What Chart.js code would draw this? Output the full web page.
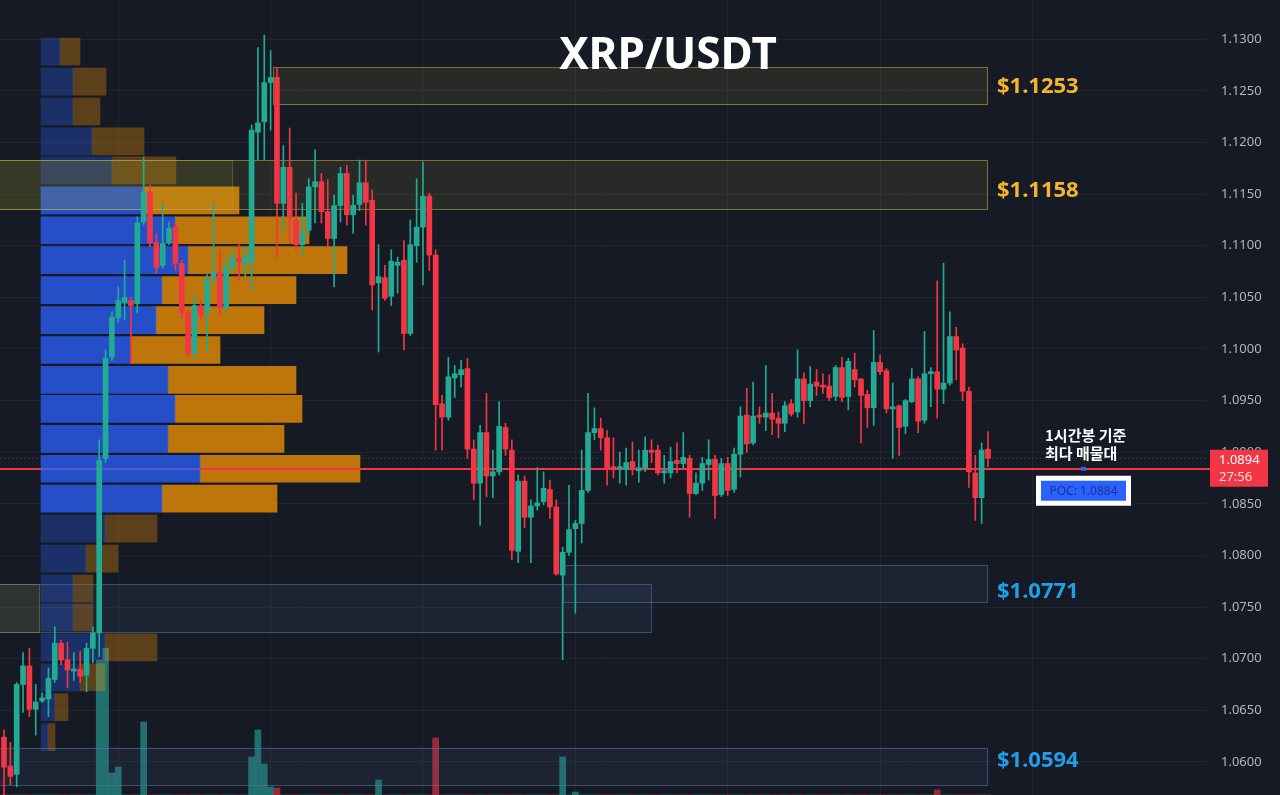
<!DOCTYPE html>
<html>
<head>
<meta charset="utf-8">
<title>XRP/USDT</title>
<script src="https://cdn.jsdelivr.net/npm/chart.js@4.4.1/dist/chart.umd.min.js"></script>
<style>
  html, body { margin: 0; padding: 0; background: #161a25; }
  #wrap { position: relative; width: 1280px; height: 795px; }
</style>
</head>
<body>
<div id="wrap"><canvas id="xrpChart"></canvas></div>
<script>
// 1h candles
const opens = [
  1.0624, 1.0596, 1.0588, 1.0675, 1.0693, 1.0651, 1.0659, 1.0661, 1.0680, 1.0715,
  1.0699, 1.0688, 1.0690, 1.0684, 1.0710, 1.0725, 1.0894, 1.0992, 1.1030, 1.1045,
  1.1047, 1.1044, 1.1123, 1.1152, 1.1103, 1.1081, 1.1103, 1.1118, 1.1083, 1.1035,
  1.0996, 1.1042, 1.1035, 1.1069, 1.1074, 1.1040, 1.1079, 1.1088, 1.1083, 1.1084,
  1.1210, 1.1220, 1.1258, 1.1263, 1.1141, 1.1176, 1.1125, 1.1101, 1.1115, 1.1157,
  1.1162, 1.1133, 1.1107, 1.1139, 1.1170, 1.1130, 1.1140, 1.1161, 1.1144, 1.1064,
  1.1069, 1.1051, 1.1081, 1.1086, 1.1015, 1.1100, 1.1118, 1.1148, 1.1091, 1.0947,
  1.0934, 1.0972, 1.0975, 1.0981, 1.0903, 1.0870, 1.0919, 1.0877, 1.0881, 1.0924,
  1.0902, 1.0804, 1.0872, 1.0837, 1.0848, 1.0852, 1.0864, 1.0847, 1.0781, 1.0803,
  1.0826, 1.0831, 1.0863, 1.0919, 1.0923, 1.0914, 1.0886, 1.0884, 1.0883, 1.0891,
  1.0882, 1.0885, 1.0902, 1.0902, 1.0880, 1.0880, 1.0892, 1.0889, 1.0894, 1.0860,
  1.0870, 1.0888, 1.0893, 1.0859, 1.0889, 1.0864, 1.0898, 1.0936, 1.0909, 1.0936,
  1.0934, 1.0938, 1.0933, 1.0928, 1.0947, 1.0939, 1.0971, 1.0950, 1.0968, 1.0965,
  1.0964, 1.0954, 1.0982, 1.0954, 1.0980, 1.0971, 1.0956, 1.0943, 1.0987, 1.0979,
  1.0942, 1.0945, 1.0925, 1.0949, 1.0971, 1.0931, 1.0976, 1.0978, 1.0961, 1.0967,
  1.1012, 1.1001, 1.0959, 1.0880, 1.0856, 1.0903
];
const highs = [
  1.0631, 1.0619, 1.0677, 1.0706, 1.0710, 1.0675, 1.0667, 1.0691, 1.0731, 1.0718,
  1.0716, 1.0706, 1.0707, 1.0715, 1.0731, 1.0912, 1.0999, 1.1036, 1.1060, 1.1086,
  1.1050, 1.1128, 1.1186, 1.1159, 1.1112, 1.1141, 1.1123, 1.1122, 1.1086, 1.1038,
  1.1052, 1.1047, 1.1072, 1.1141, 1.1096, 1.1089, 1.1096, 1.1101, 1.1099, 1.1217,
  1.1292, 1.1304, 1.1289, 1.1272, 1.1197, 1.1214, 1.1151, 1.1141, 1.1165, 1.1193,
  1.1170, 1.1164, 1.1149, 1.1176, 1.1178, 1.1149, 1.1183, 1.1183, 1.1154, 1.1101,
  1.1081, 1.1096, 1.1089, 1.1105, 1.1125, 1.1165, 1.1181, 1.1151, 1.1096, 1.0955,
  1.0992, 1.0984, 1.0989, 1.0991, 1.0912, 1.0926, 1.0957, 1.0902, 1.0949, 1.0928,
  1.0912, 1.0878, 1.0877, 1.0854, 1.0885, 1.0881, 1.0873, 1.0854, 1.0808, 1.0868,
  1.0834, 1.0902, 1.0957, 1.0943, 1.0933, 1.0921, 1.0914, 1.0900, 1.0904, 1.0910,
  1.0902, 1.0915, 1.0912, 1.0907, 1.0897, 1.0905, 1.0909, 1.0919, 1.0897, 1.0880,
  1.0895, 1.0912, 1.0897, 1.0894, 1.0895, 1.0904, 1.0944, 1.0962, 1.0968, 1.0944,
  1.0984, 1.0957, 1.0939, 1.0949, 1.0951, 1.0999, 1.0977, 1.0983, 1.0980, 1.0976,
  1.0975, 1.0984, 1.0992, 1.0991, 1.0996, 1.0971, 1.0960, 1.1018, 1.0994, 1.0981,
  1.0967, 1.0946, 1.0951, 1.0981, 1.0973, 1.1017, 1.0982, 1.1066, 1.1083, 1.1036,
  1.1021, 1.1005, 1.0963, 1.0897, 1.0909, 1.0920
];
const lows = [
  1.0565, 1.0578, 1.0576, 1.0648, 1.0644, 1.0626, 1.0658, 1.0644, 1.0677, 1.0694,
  1.0672, 1.0679, 1.0677, 1.0668, 1.0696, 1.0702, 1.0890, 1.0989, 1.1025, 1.1028,
  1.0986, 1.1035, 1.1120, 1.1099, 1.1073, 1.1078, 1.1101, 1.1076, 1.1030, 1.0992,
  1.0991, 1.1028, 1.0997, 1.1062, 1.1033, 1.1036, 1.1076, 1.1067, 1.1070, 1.1057,
  1.1183, 1.1183, 1.1212, 1.1089, 1.1115, 1.1102, 1.1096, 1.1091, 1.1110, 1.1122,
  1.1122, 1.1099, 1.1060, 1.1123, 1.1120, 1.1112, 1.1134, 1.1120, 1.1038, 1.0997,
  1.1047, 1.1042, 1.1054, 1.0999, 1.1013, 1.1084, 1.1062, 1.1076, 1.0902, 1.0902,
  1.0931, 1.0953, 1.0963, 1.0894, 1.0854, 1.0829, 1.0857, 1.0856, 1.0878, 1.0897,
  1.0796, 1.0793, 1.0827, 1.0793, 1.0844, 1.0849, 1.0836, 1.0781, 1.0699, 1.0800,
  1.0744, 1.0812, 1.0861, 1.0912, 1.0902, 1.0868, 1.0875, 1.0870, 1.0868, 1.0878,
  1.0871, 1.0881, 1.0890, 1.0878, 1.0870, 1.0875, 1.0880, 1.0885, 1.0837, 1.0859,
  1.0863, 1.0873, 1.0836, 1.0857, 1.0858, 1.0861, 1.0876, 1.0900, 1.0907, 1.0928,
  1.0921, 1.0917, 1.0914, 1.0920, 1.0935, 1.0934, 1.0928, 1.0944, 1.0955, 1.0957,
  1.0950, 1.0950, 1.0949, 1.0941, 1.0963, 1.0909, 1.0924, 1.0926, 1.0975, 1.0938,
  1.0894, 1.0897, 1.0918, 1.0948, 1.0919, 1.0928, 1.0944, 1.0933, 1.0947, 1.0965,
  1.0970, 1.0950, 1.0866, 1.0834, 1.0831, 1.0886
];
const closes = [
  1.0595, 1.0586, 1.0675, 1.0693, 1.0651, 1.0658, 1.0662, 1.0681, 1.0715, 1.0699,
  1.0689, 1.0690, 1.0683, 1.0710, 1.0725, 1.0892, 1.0991, 1.1031, 1.1047, 1.1050,
  1.1042, 1.1122, 1.1152, 1.1103, 1.1079, 1.1102, 1.1117, 1.1083, 1.1035, 1.0996,
  1.1042, 1.1033, 1.1067, 1.1074, 1.1040, 1.1079, 1.1088, 1.1084, 1.1089, 1.1212,
  1.1219, 1.1258, 1.1263, 1.1141, 1.1176, 1.1127, 1.1101, 1.1113, 1.1157, 1.1162,
  1.1133, 1.1107, 1.1139, 1.1170, 1.1130, 1.1139, 1.1161, 1.1142, 1.1062, 1.1070,
  1.1049, 1.1085, 1.1084, 1.1015, 1.1101, 1.1118, 1.1148, 1.1091, 1.0946, 1.0934,
  1.0973, 1.0976, 1.0980, 1.0903, 1.0870, 1.0919, 1.0877, 1.0881, 1.0925, 1.0903,
  1.0805, 1.0872, 1.0837, 1.0848, 1.0851, 1.0865, 1.0847, 1.0782, 1.0803, 1.0825,
  1.0831, 1.0863, 1.0919, 1.0923, 1.0914, 1.0885, 1.0883, 1.0886, 1.0890, 1.0883,
  1.0885, 1.0902, 1.0900, 1.0880, 1.0882, 1.0891, 1.0889, 1.0895, 1.0860, 1.0870,
  1.0889, 1.0893, 1.0858, 1.0889, 1.0863, 1.0898, 1.0935, 1.0908, 1.0935, 1.0934,
  1.0938, 1.0932, 1.0928, 1.0945, 1.0937, 1.0971, 1.0950, 1.0966, 1.0964, 1.0963,
  1.0953, 1.0982, 1.0953, 1.0988, 1.0970, 1.0955, 1.0943, 1.0987, 1.0978, 1.0942,
  1.0944, 1.0924, 1.0950, 1.0971, 1.0930, 1.0976, 1.0978, 1.0961, 1.0967, 1.1012,
  1.0999, 1.0959, 1.0881, 1.0856, 1.0902, 1.0894
];
// only the tallest volume bars reach into the picture
const volumes = [
  0, 0, 0, 0, 0, 0, 0, 0, 0, 0, 0, 0, 0, 0, 0, 135, 147, 22, 28, 0,
  0, 0, 73, 0, 0, 0, 0, 0, 0, 0, 0, 0, 0, 0, 0, 0, 0, 0, 0, 38,
  65, 31, 8, 7, 0, 0, 0, 0, 0, 0, 0, 0, 0, 0, 0, 0, 0, 0, 0, 15,
  0, 0, 0, 0, 0, 0, 0, 0, 57, 0, 0, 0, 0, 0, 0, 0, 0, 0, 0, 0,
  0, 0, 0, 0, 0, 0, 0, 0, 38, 0, 3, 0, 0, 0, 0, 0, 0, 0, 0, 0,
  0, 0, 0, 0, 0, 0, 0, 0, 0, 0, 0, 0, 0, 0, 0, 0, 0, 0, 0, 0,
  0, 0, 0, 0, 0, 0, 0, 0, 0, 0, 0, 0, 0, 0, 0, 0, 0, 0, 0, 0,
  0, 0, 0, 0, 0, 0, 0, 5, 0, 0, 0, 0, 0, 0, 0, 0
];

const priceTicks = [1.0600, 1.0650, 1.0700, 1.0750, 1.0800, 1.0850, 1.0900, 1.0950,
                    1.1000, 1.1050, 1.1100, 1.1150, 1.1200, 1.1250, 1.1300];
const gridCandles = [18, 42, 66, 90, 114, 138, 162];

// volume profile rows (buy = blue, sell = orange)
const profileLevels = [1.1288, 1.1259, 1.1230, 1.1201, 1.1173, 1.1144, 1.1115, 1.1086,
                       1.1057, 1.1028, 1.0999, 1.0970, 1.0942, 1.0913, 1.0884, 1.0855,
                       1.0826, 1.0797, 1.0768, 1.0740, 1.0711, 1.0682, 1.0653, 1.0624];
const profileBuy = [19, 32, 32, 51, 71, 102, 134, 147, 121, 115, 90, 127,
                    134, 127, 159, 121, 64, 45, 32, 32, 64, 39, 14, 7];
const profileSell = [20, 33, 27, 52, 64, 96, 134, 159, 134, 108, 89, 128,
                     127, 116, 160, 115, 52, 32, 20, 20, 52, 25, 13, 7];
const valueAreaHigh = 1.1144;
const valueAreaLow = 1.0855;

// support / resistance boxes
const zoneTops =    [1.1273, 1.1183, 1.1183, 1.0791, 1.0772, 1.0772, 1.0614];
const zoneBottoms = [1.1236, 1.1135, 1.1135, 1.0754, 1.0725, 1.0725, 1.0577];
const zoneStarts =  [42.4, -2, -2, 88, -2, -2, -2];
const zoneEnds =    [155, 155, 36, 155, 102, 5.7, 155];
const zoneKinds =   ['gold', 'gold', 'gold', 'blue', 'blue', 'gold', 'blue'];
const zoneLabels =  ['$1.1253', '$1.1158', '', '$1.0771', '', '', '$1.0594'];

const titleText = 'XRP/USDT';
const pocPrice = 1.0884;
const lastPrice = 1.0894;
const countdown = '27:56';
const noteLines = ['1시간봉 기준', '최다 매물대'];

const UP = '#22ab94';
const DOWN = '#f23645';
// small vertical nudges for the box labels (px)
const labelNudge = [1, 6, 0, 8, 0, 0, -6];

const idx = opens.map((_, i) => i);
const upFlags = closes.map((c, i) => c >= opens[i]);
const candleColors = upFlags.map(u => (u ? UP : DOWN));
const volumeColors = upFlags.map(u => (u ? 'rgba(38,166,154,0.62)' : 'rgba(242,54,69,0.6)'));
const inValueArea = profileLevels.map(p => p <= valueAreaHigh + 1e-9 && p >= valueAreaLow - 1e-9);
const buyColors = inValueArea.map(v => (v ? 'rgba(41,98,255,0.75)' : 'rgba(41,98,255,0.3)'));
const sellColors = inValueArea.map(v => (v ? 'rgba(255,152,0,0.72)' : 'rgba(255,152,0,0.3)'));

function drawZones(chart) {
  const { ctx, chartArea: a, scales: { x, y } } = chart;
  ctx.save();
  ctx.beginPath();
  ctx.rect(a.left, a.top, a.width, a.height);
  ctx.clip();
  zoneTops.forEach((top, k) => {
    const x0 = Math.max(a.left - 2, x.getPixelForValue(zoneStarts[k]));
    const x1 = x.getPixelForValue(zoneEnds[k]);
    const y0 = y.getPixelForValue(top);
    const y1 = y.getPixelForValue(zoneBottoms[k]);
    const gold = zoneKinds[k] === 'gold';
    const faint = !zoneLabels[k] && gold;
    ctx.fillStyle = gold ? 'rgba(200,185,50,0.10)' : 'rgba(70,100,150,0.13)';
    ctx.fillRect(x0, y0, x1 - x0, y1 - y0);
    ctx.strokeStyle = gold ? (faint ? 'rgba(200,175,60,0.3)' : 'rgba(200,175,60,0.55)') : 'rgba(100,125,165,0.5)';
    ctx.lineWidth = 1;
    ctx.strokeRect(Math.round(x0) + 0.5, Math.round(y0) + 0.5, Math.round(x1 - x0) - 1, Math.round(y1 - y0) - 1);
  });
  ctx.restore();
}

function drawPriceLines(chart) {
  const { ctx, chartArea: a, scales: { y } } = chart;
  const lp = Math.round(y.getPixelForValue(lastPrice)) + 0.5;
  ctx.save();
  ctx.strokeStyle = 'rgba(150,155,170,0.35)';
  ctx.setLineDash([1, 3]);
  ctx.lineWidth = 1;
  ctx.beginPath();
  ctx.moveTo(a.left, lp);
  ctx.lineTo(a.right, lp);
  ctx.stroke();
  ctx.setLineDash([]);
  const py = Math.round(y.getPixelForValue(pocPrice));
  ctx.strokeStyle = DOWN;
  ctx.lineWidth = 2;
  ctx.beginPath();
  ctx.moveTo(a.left, py);
  ctx.lineTo(a.right + 4, py);
  ctx.stroke();
  ctx.restore();
}

const overlayPlugin = {
  id: 'overlay',
  beforeDatasetDraw(chart, args) {
    const lbl = chart.data.datasets[args.index].label;
    if (lbl === 'profileBuy') drawPriceLines(chart);
    if (lbl === 'wick') drawZones(chart);
  },
  afterDraw(chart) {
    const { ctx, chartArea: a, scales: { x, y } } = chart;
    ctx.save();
    // zone price labels
    ctx.font = 'bold 22px "Noto Sans"';
    ctx.textAlign = 'left';
    ctx.textBaseline = 'middle';
    zoneLabels.forEach((txt, k) => {
      if (!txt) return;
      const ym = (y.getPixelForValue(zoneTops[k]) + y.getPixelForValue(zoneBottoms[k])) / 2;
      ctx.fillStyle = zoneKinds[k] === 'gold' ? '#f2b52c' : '#1f9fe8';
      ctx.fillText(txt, x.getPixelForValue(zoneEnds[k]) + 9, ym + labelNudge[k]);
    });

    // title
    ctx.font = 'bold 44px "Noto Sans"';
    ctx.textAlign = 'center';
    ctx.fillStyle = '#ffffff';
    ctx.fillText(titleText, 668, 56);

    // last price tag on the axis
    const py = y.getPixelForValue(pocPrice);
    ctx.fillStyle = DOWN;
    ctx.fillRect(a.right + 3, py - 19, 58, 37);
    ctx.font = '13px "Noto Sans"';
    ctx.textAlign = 'left';
    ctx.fillStyle = '#ffffff';
    ctx.fillText(lastPrice.toFixed(4), a.right + 12, py - 8);
    ctx.fillStyle = '#ffdfe2';
    ctx.fillText(countdown, a.right + 12, py + 9);

    // note
    ctx.font = 'bold 15px "Noto Sans CJK KR"';
    ctx.fillStyle = '#ffffff';
    ctx.fillText(noteLines[0], a.right - 162, py - 33);
    ctx.fillText(noteLines[1], a.right - 162, py - 15);

    // POC label
    const bx = a.right - 171;
    ctx.fillStyle = '#2962ff';
    ctx.fillRect(bx + 45, py - 2, 5, 4);
    ctx.fillStyle = '#ffffff';
    ctx.fillRect(bx, py + 7, 95, 30);
    ctx.fillStyle = '#2962ff';
    ctx.fillRect(bx + 5, py + 12, 85, 20);
    ctx.font = '12px "Noto Sans"';
    ctx.textAlign = 'center';
    ctx.fillStyle = '#1a348c';
    ctx.fillText('POC: ' + pocPrice.toFixed(4), bx + 47.5, py + 22.5);
    ctx.restore();
  }
};

const ctx = document.getElementById('xrpChart').getContext('2d');
new Chart(ctx, {
  type: 'bar',
  data: {
    datasets: [
      {
        label: 'volume',
        data: idx.map(i => ({ x: i, y: volumes[i] })),
        xAxisID: 'x',
        yAxisID: 'yv',
        backgroundColor: volumeColors,
        barThickness: 6,
        grouped: false,
        order: 5
      },
      {
        label: 'profileBuy',
        indexAxis: 'y',
        data: profileLevels.map((p, k) => ({ y: p, x: [0, profileBuy[k]] })),
        xAxisID: 'xp',
        yAxisID: 'y',
        backgroundColor: buyColors,
        barThickness: 27,
        grouped: false,
        order: 4
      },
      {
        label: 'profileSell',
        indexAxis: 'y',
        data: profileLevels.map((p, k) => ({ y: p, x: [profileBuy[k], profileBuy[k] + profileSell[k]] })),
        xAxisID: 'xp',
        yAxisID: 'y',
        backgroundColor: sellColors,
        barThickness: 27,
        grouped: false,
        order: 4
      },
      {
        label: 'wick',
        data: idx.map(i => ({ x: i, y: [lows[i], highs[i]] })),
        xAxisID: 'x',
        yAxisID: 'y',
        backgroundColor: candleColors,
        barThickness: 1,
        grouped: false,
        order: 1
      },
      {
        label: 'body',
        data: idx.map(i => ({ x: i, y: [opens[i], closes[i]] })),
        xAxisID: 'x',
        yAxisID: 'y',
        backgroundColor: candleColors,
        barThickness: 5,
        minBarLength: 1,
        grouped: false,
        order: 0
      }
    ]
  },
  options: {
    responsive: true,
    maintainAspectRatio: false,
    animation: false,
    layout: { padding: 0 },
    plugins: {
      legend: { display: false },
      tooltip: { enabled: false },
      title: { display: false }
    },
    scales: {
      x: {
        type: 'linear',
        min: -0.63,
        max: 189.5,
        offset: false,
        afterBuildTicks: s => { s.ticks = gridCandles.map(v => ({ value: v })); },
        afterFit: s => { s.height = 0; s.paddingLeft = 0; s.paddingRight = 0; },
        ticks: { display: false },
        grid: { color: 'rgba(42,46,57,0.55)', drawTicks: false, offset: false },
        border: { display: false }
      },
      xp: {
        type: 'linear',
        display: false,
        min: -41,
        max: 1166,
        offset: false
      },
      yv: {
        type: 'linear',
        display: false,
        min: 0,
        max: 795
      },
      y: {
        type: 'linear',
        position: 'right',
        min: 1.0568,
        max: 1.1338,
        offset: false,
        afterBuildTicks: s => { s.ticks = priceTicks.map(v => ({ value: v })); },
        afterFit: s => { s.width = 73; s.paddingTop = 0; s.paddingBottom = 0; },
        ticks: {
          color: '#b2b5be',
          font: { family: 'Noto Sans', size: 13 },
          padding: 14,
          callback: v => Number(v).toFixed(4)
        },
        grid: { color: 'rgba(42,46,57,0.55)', drawTicks: false, offset: false },
        border: { display: false }
      }
    }
  },
  plugins: [overlayPlugin]
});
</script>
</body>
</html>
